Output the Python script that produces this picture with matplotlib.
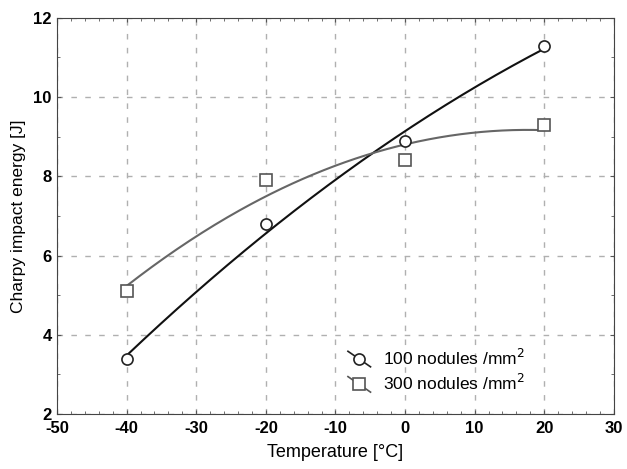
import numpy as np
import matplotlib.pyplot as plt
from matplotlib.ticker import MultipleLocator
from matplotlib.legend_handler import HandlerBase
from matplotlib.lines import Line2D

plt.rcParams['font.family'] = ['Liberation Sans', 'DejaVu Sans']
plt.rcParams['axes.unicode_minus'] = False

temps = [-40, -20, 0, 20]
energy_100 = [3.4, 6.8, 8.9, 11.3]
energy_300 = [5.1, 7.9, 8.4, 9.3]
labels = ['100 nodules /mm$^2$', '300 nodules /mm$^2$']


class DiagHandler(HandlerBase):
    # Statistica-like legend key: short diagonal line with the marker on it
    def create_artists(self, legend, orig, xdescent, ydescent, width, height,
                       fontsize, trans):
        x0, x1 = -xdescent, -xdescent + width
        y0, y1 = -ydescent + height, -ydescent
        line = Line2D([x0, x1], [y0, y1], color=orig.get_markeredgecolor(),
                      linewidth=1.2, transform=trans)
        mark = Line2D([(x0 + x1) / 2], [(y0 + y1) / 2], marker=orig.get_marker(),
                      markersize=orig.get_markersize(), markerfacecolor='white',
                      markeredgecolor=orig.get_markeredgecolor(),
                      markeredgewidth=orig.get_markeredgewidth(), transform=trans)
        return [line, mark]


fig = plt.figure(figsize=(6.27, 4.69), dpi=100)
ax = fig.add_axes([0.091, 0.117, 0.888, 0.845])

# quadratic fits as smooth curves
xs = np.linspace(-40, 20, 200)
fit_100 = np.polyval(np.polyfit(temps, energy_100, 2), xs)
fit_300 = np.polyval(np.polyfit(temps, energy_300, 2), xs)

ax.plot(xs, fit_100, color='#111111', linewidth=1.5)
ax.plot(xs, fit_300, color='#666666', linewidth=1.5)
m1, = ax.plot(temps, energy_100, 'o', markersize=8, markerfacecolor='white',
              markeredgecolor='#222222', markeredgewidth=1.2, zorder=3)
m2, = ax.plot(temps, energy_300, 's', markersize=8, markerfacecolor='white',
              markeredgecolor='#555555', markeredgewidth=1.2, zorder=3)

ax.set_xlim(-50, 30)
ax.set_ylim(2, 12)
ax.xaxis.set_major_locator(MultipleLocator(10))
ax.yaxis.set_major_locator(MultipleLocator(2))
ax.xaxis.set_minor_locator(MultipleLocator(2))
ax.yaxis.set_minor_locator(MultipleLocator(1))
ax.tick_params(which='both', direction='in', top=True, right=True, color='#555555')
ax.tick_params(which='major', length=3, labelsize=12)
ax.tick_params(axis='x', which='major', pad=5)
ax.tick_params(axis='y', which='major', pad=4)
ax.tick_params(which='minor', length=2)
ax.grid(True, which='major', linestyle=(0, (4, 6)), color='#b0b0b0', linewidth=1)
for s in ax.spines.values():
    s.set_color('#444444')

ax.set_xlabel('Temperature [°C]', fontsize=13, labelpad=6)
ax.set_ylabel('Charpy impact energy [J]', fontsize=12.5, labelpad=5)

ax.legend([m1, m2], labels, handler_map={Line2D: DiagHandler()},
          loc='lower left', bbox_to_anchor=(0.51, 0.035), frameon=False,
          fontsize=12.5, handlelength=1.3, handleheight=1.0, handletextpad=0.7,
          labelspacing=0.3, borderaxespad=0)

fig.canvas.draw()
for lab in ax.get_xticklabels() + ax.get_yticklabels():
    lab.set_fontweight('bold')

fig.savefig('out.png', dpi=100)
